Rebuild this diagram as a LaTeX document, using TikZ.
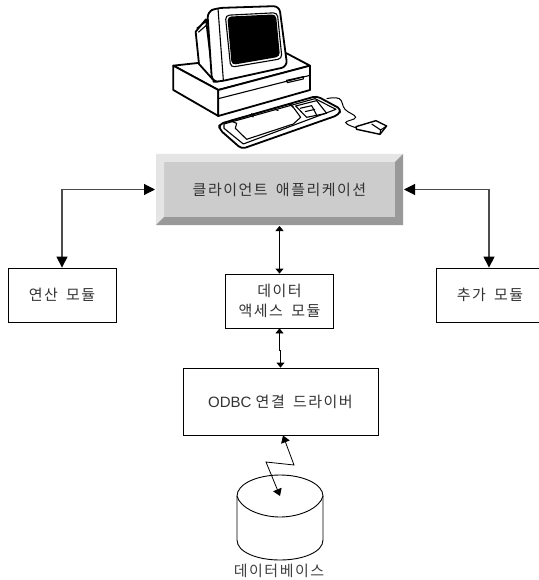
\documentclass[tikz,border=0pt]{standalone}
\usepackage{fontspec}
\setmainfont{Liberation Sans}
\newfontfamily\kr[LetterSpace=10,WordSpace=1.7]{Noto Sans CJK KR}
\usetikzlibrary{arrows.meta,calc}
\tikzset{
  modbox/.style={draw=black,line width=.8pt,fill=white,minimum width=#1,inner sep=0pt,align=center,font=\fontsize{15}{20}\selectfont\kr,text=black!80},
  bigarrow/.style={line width=1.1pt,draw=black!70,{Triangle[length=11pt,width=11pt,color=black]}-{Triangle[length=11pt,width=11pt,color=black]}},
  smallarrow/.style={line width=.8pt,{Triangle[length=5pt,width=8pt]}-{Triangle[length=5pt,width=8pt]}},
  pcline/.style={line width=1.8pt,line join=round,fill=white},
  pcthin/.style={line width=1.1pt,line join=round},
}
\begin{document}
\begin{tikzpicture}[x=1pt,y=-1pt]
\useasboundingbox (0,0) rectangle (538,580);
% computer
\begin{scope}[shift={(130,0)},x=.3333pt,y=-.3333pt]
\draw[pcline] (130,197) -- (470,160) -- (540,197) -- (265,270) -- cycle;
\draw[pcline] (130,197) -- (130,270) -- (265,348) -- (265,270) -- cycle;
\draw[pcline] (265,270) -- (540,197) -- (540,270) -- (265,348) -- cycle;
\draw[pcthin] (265,296) -- (540,226);
\draw[pcthin] (470,241) -- (520,230) -- (520,237) -- (472,248) -- cycle;
% monitor back
\draw[pcline] (197,95) -- (228,58) -- (250,240) -- (207,192) -- cycle;
\draw[pcthin] (200,85) -- (228,65) (205,97) -- (230,75);
% monitor front
\draw[pcline,rounded corners=6pt] (232,35) -- (262,24) -- (448,18) -- (472,200) -- (268,245) -- (246,245) -- cycle;
\draw[pcthin] (264,25) -- (280,240);
\draw[pcthin,rounded corners=4pt] (286,46) -- (442,38) -- (456,176) -- (302,202) -- cycle;
\fill[black,rounded corners=4pt] (292,50) -- (438,43) -- (450,170) -- (305,195) -- cycle;
% keyboard
\draw[pcline,rounded corners=4pt] (268,372) -- (560,288) -- (634,328) -- (625,345) -- (335,447) -- (268,388) -- cycle;
\draw[pcthin] (282,372) -- (555,296) -- (618,328) -- (340,432) -- (282,385) -- cycle;
\draw[pcthin] (300,362) -- (480,312) -- (490,322) -- (512,352) -- (490,372) -- (350,418) -- (316,385) -- (320,370) -- cycle;
\draw[pcthin] (365,340) -- (370,352) (430,325) -- (445,332) (480,312) -- (490,322);
\draw[pcthin] (497,318) -- (560,302) -- (590,340) -- (530,352) -- cycle;
\draw[pcthin] (510,325) -- (545,317) -- (560,345) (525,335) -- (555,328);
\draw[line width=1pt] plot[smooth,tension=.7] coordinates {(590,296) (628,296) (645,328) (677,352) (647,368) (680,384)};
\draw[pcline,line width=1.4pt] (678,380) -- (738,362) -- (770,378) -- (750,403) -- (680,388) -- cycle;
\draw[pcthin] (725,372) -- (752,390) -- (750,403) (752,390) -- (770,378);
\end{scope}
% bevelled bar
\fill[black!20] (156,154) rectangle (403,225);
\fill[black!10] (156,154) -- (403,154) -- (395,162) -- (164,162) -- (164,217) -- (156,225) -- cycle;
\fill[black!40] (403,154) -- (403,225) -- (156,225) -- (164,217) -- (395,217) -- (395,162) -- cycle;
\node[minimum width=247pt,minimum height=71pt,inner sep=0pt,font=\fontsize{15}{18}\selectfont\kr,text=black!80] (bar) at (279.5,189.5) {클라이언트 애플리케이션};
% boxes
\node[modbox=108pt,minimum height=54pt] (calc) at (62,295) {연산 모듈};
\node[modbox=108pt,minimum height=54pt] (data) at (279.5,301) {데이터\\액세스 모듈};
\node[modbox=108pt,minimum height=54pt] (add) at (490,295) {추가 모듈};
\node[modbox=195pt,minimum height=67pt,font=\fontsize{15}{18}\selectfont] (odbc) at (280.5,401.5) {ODBC {\kr 연결 드라이버}};
% cylinder
\draw[line width=.9pt,fill=white] (237,496) .. controls (237,484) and (257,475) .. (280,475) .. controls (303,475) and (323,484) .. (323,496) -- (323,540) .. controls (323,552) and (303,560) .. (280,560) .. controls (257,560) and (237,552) .. (237,540) -- cycle;
\draw[line width=.9pt] (237,496) .. controls (240,508) and (260,517) .. (280,517) .. controls (300,517) and (320,508) .. (323,496);
\node[inner sep=0pt,font=\fontsize{15}{18}\selectfont\kr,text=black!75] (dblabel) at (279,571) {데이터베이스};
\coordinate (dbc) at (280,496);
% connectors
\coordinate (lbend) at (62,189.5);
\coordinate (rbend) at (489,189.5);
\coordinate (lend) at (155,189.5);
\coordinate (rend) at (404,189.5);
\draw[bigarrow] (lend) -- (lbend) -- (calc.north -| lbend);
\draw[bigarrow] (rend) -- (rbend) -- (add.north -| rbend);
\draw[smallarrow] (279.5,226) -- (data.north);
\coordinate (dmid) at (280.5,350);
\draw[smallarrow] (data.south) -- (279.5,350) -- (dmid) -- (dmid |- odbc.north);
\coordinate (z1) at (294,465);
\coordinate (z2) at (266,462);
\draw[line width=.8pt,{Triangle[length=7pt,width=9pt]}-{Triangle[length=7pt,width=9pt]}] (283,435.5) -- (z1) -- (z2) -- (dbc);
\end{tikzpicture}
\end{document}
